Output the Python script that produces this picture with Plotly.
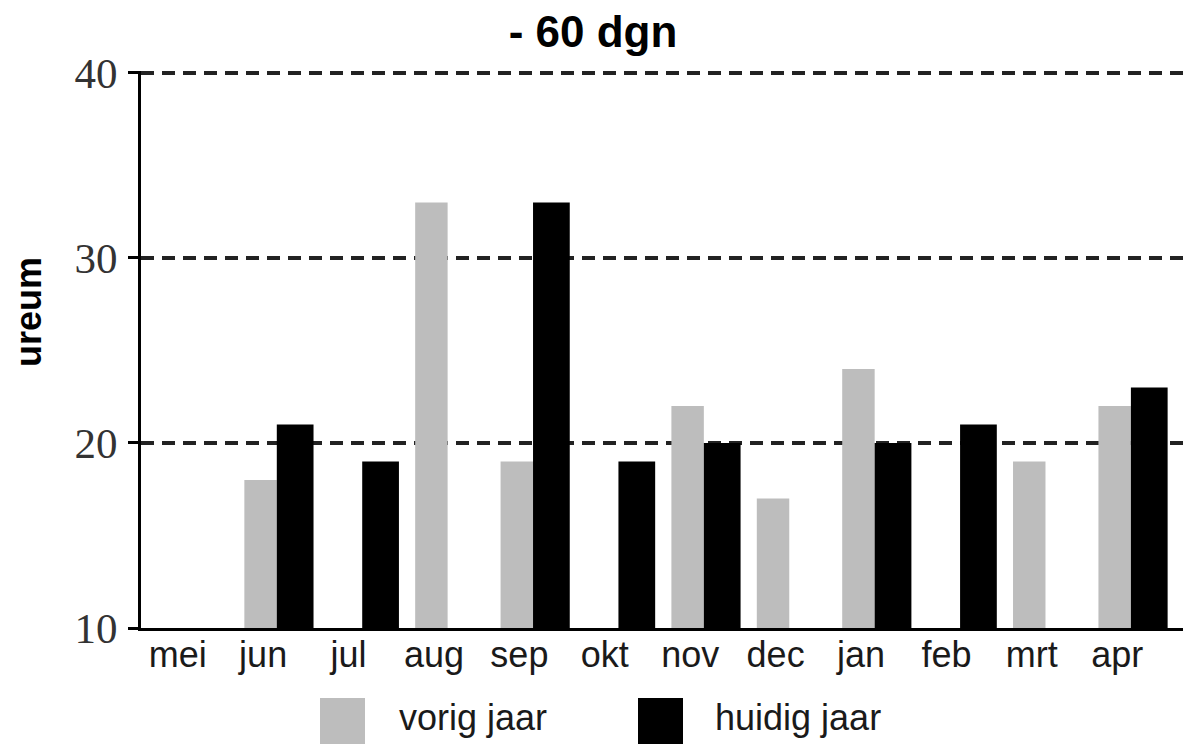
import plotly.graph_objects as go

months = ["mei", "jun", "jul", "aug", "sep", "okt", "nov", "dec", "jan", "feb", "mrt", "apr"]
vorig_jaar = [None, 18, None, 33, 19, None, 22, 17, 24, None, 19, 22]
huidig_jaar = [None, 21, 19, None, 33, 19, 20, None, 20, 21, None, 23]

title_text = "- 60 dgn"
y_title = "ureum"
legend_names = ["vorig jaar", "huidig jaar"]
y_ticks = [10, 20, 30, 40]

GREY = "#bdbdbd"
BLACK = "#000000"
W, H = 1183, 744
ML, MR, MT, MB = 141, 0, 71, 116
Y_MAX = 40.1

fig = go.Figure()
fig.add_trace(go.Bar(x=months, y=[None if v is None else v - 10 for v in vorig_jaar],
                     base=10, name=legend_names[0], marker_color=GREY,
                     marker_line_width=0, width=0.38, offset=-0.22, showlegend=False))
fig.add_trace(go.Bar(x=months, y=[None if v is None else v - 10 for v in huidig_jaar],
                     base=10, name=legend_names[1], marker_color=BLACK,
                     marker_line_width=0, width=0.43, offset=0.16, showlegend=False))


def px_to_paper(px, py):
    return (px - ML) / (W - ML - MR), (H - MB - py) / (H - MT - MB)


# manual legend (large square swatches as in the reference)
for (x0, x1, col, tx, label) in [(320, 365, GREY, 397, legend_names[0]),
                                  (638, 683, BLACK, 713, legend_names[1])]:
    a0, b0 = px_to_paper(x0, 698)
    a1, b1 = px_to_paper(x1, 746)
    fig.add_shape(type="rect", xref="paper", yref="paper", x0=a0, x1=a1, y0=b1, y1=b0,
                  fillcolor=col, line_width=0, layer="above")
    tx_p, ty_p = px_to_paper(tx, 717)
    fig.add_annotation(text=label, xref="paper", yref="paper", x=tx_p, y=ty_p,
                       xanchor="left", yanchor="middle", showarrow=False,
                       font=dict(family="Liberation Sans, Arial", size=36, color="#1a1a1a"))

ax, ay = px_to_paper(28, 312)
fig.add_annotation(text=f"<b>{y_title}</b>", xref="paper", yref="paper", x=ax, y=ay,
                   xanchor="center", yanchor="middle", textangle=-90, showarrow=False,
                   font=dict(family="Liberation Sans, Arial", size=36, color="#000"))

fig.update_layout(
    width=W, height=H,
    margin=dict(l=ML, r=MR, t=MT, b=MB, pad=0, autoexpand=False),
    paper_bgcolor="white", plot_bgcolor="white",
    barmode="overlay",
    title=dict(text=f"<b>{title_text}</b>", x=593 / W, xanchor="center",
               y=1 - 32 / H, yanchor="middle", yref="container",
               font=dict(family="Liberation Sans, Arial", size=44, color="#000")),
)
fig.update_xaxes(
    type="category", range=[-0.43, 11.77],
    showline=True, linecolor="#000", linewidth=3,
    ticks="", showgrid=False, zeroline=False,
    tickfont=dict(family="Liberation Sans, Arial", size=36, color="#1a1a1a"),
    ticklabelstandoff=-7,
)
fig.update_yaxes(
    range=[10, Y_MAX], tickvals=y_ticks, ticktext=[str(t) for t in y_ticks],
    showline=True, linecolor="#000", linewidth=3,
    ticks="outside", ticklen=10, tickwidth=3, tickcolor="#000",
    showgrid=True, gridcolor="#222222", gridwidth=3.5, griddash="13px,8px",
    zeroline=False,
    tickfont=dict(family="Liberation Serif, Times New Roman", size=43, color="#333"),
    ticklabelstandoff=2,
)
fig.write_html("out.html", config={"displayModeBar": False},
               post_script="document.body.style.margin='0';document.body.style.overflow='hidden';")
